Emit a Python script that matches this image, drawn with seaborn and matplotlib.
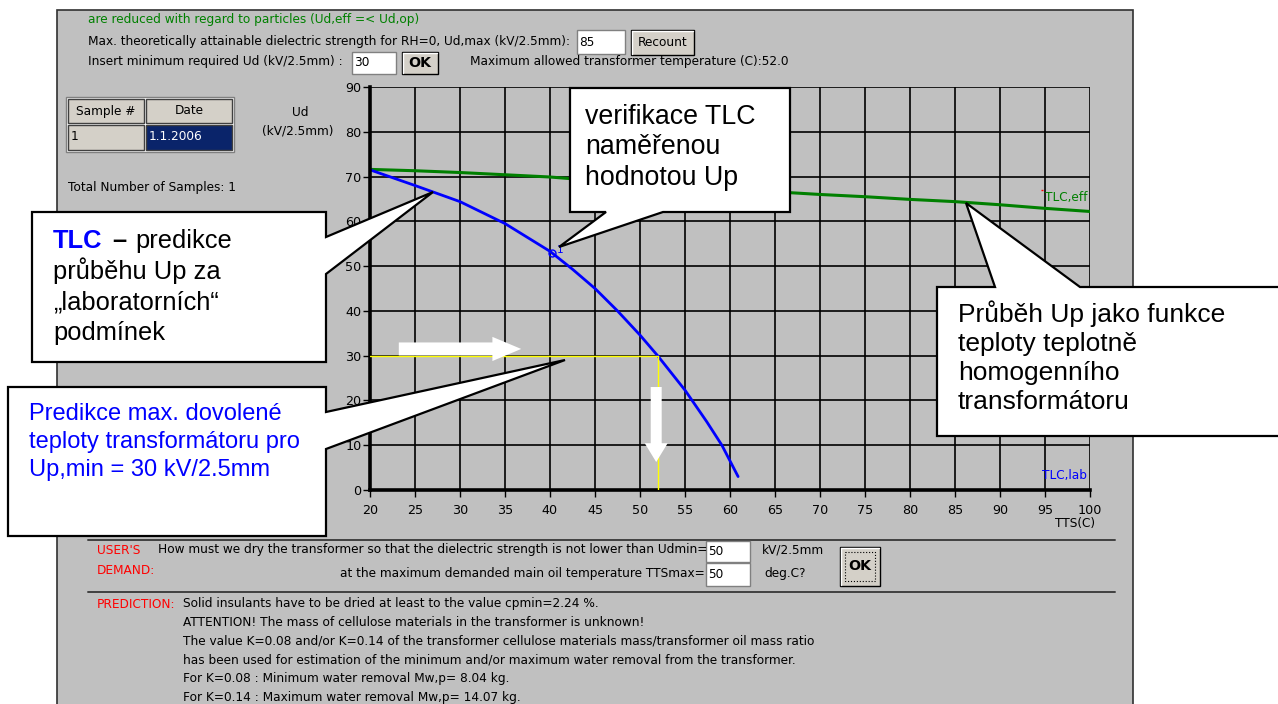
import matplotlib
matplotlib.use('Agg')
import matplotlib.pyplot as plt
import matplotlib.transforms as mtransforms
from matplotlib import font_manager
from matplotlib.patches import Polygon, Rectangle, FancyArrow
import pandas as pd
import seaborn as sns

# TLC,lab : predicted Ud vs. oil temperature under lab conditions
tts_lab = [20, 25, 30, 35, 40, 42.5, 45, 47.5, 50, 52, 55, 57.4, 59.1, 60.9]
ud_lab = [71.5, 68.0, 64.4, 59.5, 53.3, 49.3, 45.0, 40.0, 34.6, 29.9, 22.3, 15.3, 10.0, 3.0]

# TLC,eff : Ud of a thermally homogeneous transformer
tts_eff = [20, 25, 30, 35, 40, 45, 50, 55, 60, 65, 70, 75, 80, 85, 90, 95, 100]
ud_eff = [71.6, 71.3, 70.9, 70.4, 69.9, 69.1, 68.5, 67.9, 67.2, 66.6, 66.0, 65.5, 64.9, 64.4, 63.7, 62.9, 62.2]

# measured verification point and the limits
meas_tts = [40.2]
meas_ud = [53.0]
ud_min = 30
t_max = 52.0
ud_max = 85

x_ticks = list(range(20, 101, 5))
y_ticks = list(range(0, 91, 10))

sns.set_theme(style='ticks')
names = {f.name for f in font_manager.fontManager.ttflist}
if 'Liberation Sans Narrow' in names:
    UI = 'Liberation Sans Narrow'
    UIS = 10.5
else:
    UI = 'DejaVu Sans'
    UIS = 8.7
plt.rcParams['font.family'] = [UI, 'DejaVu Sans']
ARIAL = ['Liberation Sans', 'DejaVu Sans']

W, H = 1278, 704
fig = plt.figure(figsize=(W / 100, H / 100), dpi=100)
fig.patch.set_facecolor('white')
# pixel coords, origin top-left
PX = mtransforms.Affine2D().scale(1 / W, -1 / H).translate(0, 1) + fig.transFigure

GRAY = '#C0C0C0'
BTN = '#D4D0C8'
BLUE = '#0000FF'
GREEN = '#008000'
RED = '#FF0000'


def rect(x0, y0, x1, y1, fc, ec='none', lw=1.0, z=1, ls='-'):
    fig.add_artist(Rectangle((x0, y0), x1 - x0, y1 - y0, transform=PX, fc=fc, ec=ec, lw=lw,
                             ls=ls, zorder=z))


def line(x0, y0, x1, y1, color='#404040', lw=1.2, z=1):
    fig.add_artist(plt.Line2D([x0, x1], [y0, y1], transform=PX, color=color, lw=lw, zorder=z))


def ui(x, y, s, color='black', ha='left', size=None, weight='normal', z=3):
    fig.text(x, y, s, transform=PX, color=color, ha=ha, va='center', fontsize=size or UIS,
             fontweight=weight, zorder=z)


def edit(x0, y0, x1, y1, s):
    rect(x0, y0, x1, y1, 'white', '#808080', 1.0, 2)
    ui(x0 + 2, (y0 + y1) / 2, s)


def button(x0, y0, x1, y1, s, weight='normal', size=None):
    rect(x0, y0, x1, y1, BTN, 'black', 1.0, 2)
    line(x0 + 1, y0 + 1, x1 - 1, y0 + 1, 'white', 1.0, 2)
    line(x0 + 1, y0 + 1, x0 + 1, y1 - 1, 'white', 1.0, 2)
    ui((x0 + x1) / 2, (y0 + y1) / 2, s, ha='center', weight=weight, size=size)


# application panel
rect(57, 10, 1133, 720, GRAY, '#303030', 1.2, -10)

# top controls
ui(88, 19, 'are reduced with regard to particles (Ud,eff =< Ud,op)', color=GREEN)
ui(88, 42, 'Max. theoretically attainable dielectric strength for RH=0, Ud,max (kV/2.5mm):')
edit(577, 30, 625, 54, str(ud_max))
button(631, 30, 694, 55, 'Recount')
ui(88, 62, 'Insert minimum required Ud (kV/2.5mm) :')
edit(352, 52, 396, 74, str(ud_min))
button(402, 52, 438, 74, 'OK', weight='bold', size=UIS + 1.5)
ui(470, 62, 'Maximum allowed transformer temperature (C):%.1f' % t_max)

# sample table
rect(66, 97, 234, 152, 'white', '#808080', 1.0, 1)
rect(68, 99, 144, 123, BTN, '#404040', 1.0, 2)
rect(146, 99, 232, 123, BTN, '#404040', 1.0, 2)
rect(68, 125, 144, 150, BTN, '#404040', 1.0, 2)
rect(146, 125, 232, 150, '#0A246A', '#404040', 1.0, 2)
ui(106, 111, 'Sample #', ha='center')
ui(189, 111, 'Date', ha='center')
ui(71, 137, '1')
ui(149, 137, '1.1.2006', color='white')
ui(68, 188, 'Total Number of Samples: 1')

# chart
ax = fig.add_axes([370 / W, 1 - 490 / H, 720 / W, 403 / H])
ax.set_facecolor(GRAY)
lab = pd.DataFrame({'TTS': tts_lab, 'Ud': ud_lab})
eff = pd.DataFrame({'TTS': tts_eff, 'Ud': ud_eff})
sns.lineplot(data=eff, x='TTS', y='Ud', ax=ax, color=GREEN, lw=2.2, estimator=None, sort=False)
sns.lineplot(data=lab, x='TTS', y='Ud', ax=ax, color=BLUE, lw=2.0, estimator=None, sort=False)
ax.plot([x_ticks[0], t_max], [ud_min, ud_min], color='#FFFF00', lw=1.0, zorder=3)
ax.plot([t_max, t_max], [ud_min, 0], color='#FFFF00', lw=1.0, zorder=3)
ax.plot(meas_tts, meas_ud, 'o', mfc='none', mec=BLUE, ms=5, mew=1.0, zorder=4)
ax.text(meas_tts[0] + 0.6, meas_ud[0] + 0.6, '1', color=BLUE, fontsize=UIS - 1, va='center')

ax.set_xlim(x_ticks[0], x_ticks[-1])
ax.set_ylim(y_ticks[0], y_ticks[-1])
ax.set_xticks(x_ticks)
ax.set_yticks(y_ticks)
ax.set_xlabel('')
ax.set_ylabel('')
ax.grid(True, color='black', lw=1.2)
ax.set_axisbelow(True)
for s in ['top', 'right']:
    ax.spines[s].set_visible(False)
for s in ['left', 'bottom']:
    ax.spines[s].set_linewidth(2.6)
    ax.spines[s].set_color('black')
ax.tick_params(axis='both', colors='black', labelsize=UIS + 0.5, length=5, width=1.0, pad=1)
ax.tick_params(axis='x', pad=5)

ax.text(99.7, 65.4, 'TLC,eff', color=GREEN, ha='right', va='center', fontsize=UIS)
ax.text(99.7, 3.3, 'TLC,lab', color=BLUE, ha='right', va='center', fontsize=UIS)
ax.plot([94.7], [67.0], marker='_', color=RED, ms=2, mew=1)

# white guide arrows
ax.add_patch(FancyArrow(23.2, 31.5, 13.6, 0, width=2.9, head_width=5.4, head_length=3.2,
                        length_includes_head=True, fc='white', ec='none', zorder=5))
ax.add_patch(FancyArrow(51.8, 23.0, 0, -16.75, width=1.22, head_width=2.55, head_length=4.2,
                        length_includes_head=True, fc='white', ec='none', zorder=5))

ui(300, 112, 'Ud', ha='center')
ui(298, 131, '(kV/2.5mm)', ha='center')
ui(1075, 524, 'TTS(C)', ha='center')

# bottom section
line(88, 540, 1115, 540, '#404040', 1.4)
line(88, 592, 1115, 592, '#404040', 1.4)
ui(97, 550, "USER'S", color=RED)
ui(97, 571, 'DEMAND:', color=RED)
ui(158, 550, 'How must we dry the transformer so that the dielectric strength is not lower than Udmin=')
ui(705, 573, 'at the maximum demanded main oil temperature TTSmax=', ha='right')
edit(706, 541, 750, 562, '50')
edit(706, 563, 750, 586, '50')
ui(762, 550, 'kV/2.5mm')
ui(764, 573, 'deg.C?')
button(840, 547, 880, 586, 'OK', weight='bold', size=UIS + 1.5)
rect(845, 552, 875, 581, 'none', 'black', 0.8, 3, ls=':')

ui(97, 604, 'PREDICTION:', color=RED)
pred = ['Solid insulants have to be dried at least to the value cpmin=2.24 %.',
        'ATTENTION! The mass of cellulose materials in the transformer is unknown!',
        'The value K=0.08 and/or K=0.14 of the transformer cellulose materials mass/transformer oil mass ratio',
        'has been used for estimation of the minimum and/or maximum water removal from the transformer.',
        'For K=0.08 : Minimum water removal Mw,p= 8.04 kg.',
        'For K=0.14 : Maximum water removal Mw,p= 14.07 kg.']
for i, s in enumerate(pred):
    ui(183, 604 + 18.6 * i, s)


# speech bubbles
def bubble(pts):
    fig.add_artist(Polygon(pts, closed=True, transform=PX, fc='white', ec='black', lw=1.6, zorder=10))


def btext(x, y, s, size, color='black', weight='normal'):
    fig.text(x, y, s, transform=PX, fontsize=size, color=color, fontweight=weight,
             family=ARIAL, ha='left', va='baseline', zorder=11)


bubble([(570, 88), (790, 88), (790, 212), (663, 212), (559, 247), (606, 212), (570, 212)])
for i, s in enumerate(['verifikace TLC', 'naměřenou', 'hodnotou Up']):
    btext(585, 124 + 30.5 * i, s, 19.3)

bubble([(32, 212), (326, 212), (326, 237), (433, 192), (326, 274), (326, 362), (32, 362)])
btext(53, 248, 'TLC', 18.4, color=BLUE, weight='bold')
btext(112, 248, '–', 18.4, weight='bold')
btext(135, 248, 'predikce', 18.4)
for i, s in enumerate(['průběhu Up za', '„laboratorních“', 'podmínek']):
    btext(53, 279 + 30.3 * i, s, 18.4)

bubble([(8, 387), (326, 387), (326, 412), (565, 360), (326, 449), (326, 536), (8, 536)])
for i, s in enumerate(['Predikce max. dovolené', 'teploty transformátoru pro', 'Up,min = 30 kV/2.5mm']):
    btext(29, 420 + 28 * i, s, 17, color=BLUE)

bubble([(937, 287), (995, 287), (966, 203), (1080, 287), (1290, 287), (1290, 436), (937, 436)])
for i, s in enumerate(['Průběh Up jako funkce', 'teploty teplotně', 'homogenního', 'transformátoru']):
    btext(958, 322 + 29 * i, s, 19)

fig.savefig('out.png', dpi=100)
